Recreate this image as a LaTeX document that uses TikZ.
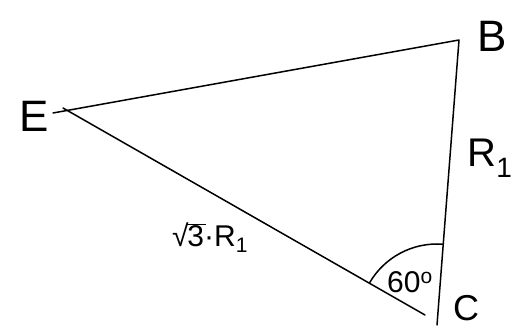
\documentclass[tikz,border=0pt]{standalone}
\usepackage{fontspec}
\setmainfont{Liberation Sans}
\begin{document}
\begin{tikzpicture}[x=1pt,y=-1pt,
  edge/.style={line width=1.5pt,line cap=round,line join=round},
  lab/.style={inner sep=0pt,font=\fontsize{44}{44}\selectfont},
  small/.style={inner sep=0pt,font=\fontsize{30}{30}\selectfont}]
\useasboundingbox (0,0) rectangle (515,336);
\coordinate (Ea) at (53,113);
\coordinate (Eb) at (63,108);
\coordinate (B) at (459,40);
\coordinate (Cb) at (437,325);
\coordinate (Ce) at (425,315);
\coordinate (C) at (437,322);
\draw[edge] (Ea) -- (B) -- (Cb);
\draw[edge] (Eb) -- (Ce);
\draw[edge] (C) ++(-150:78) arc[start angle=-150,end angle=-86,radius=78];
\node[lab] (lE) at (34,116) {E};
\node[lab] (lB) at (492,36) {B};
\node[lab,font=\fontsize{36}{36}\selectfont] (lC) at (466,308) {C};
\node[small,font=\fontsize{40}{40}\selectfont] (lR) at (490,158) {R\textsubscript{1}};
\node[small] (lS) at (210,238) {√\kern-1pt\rlap{\rule[0.73em]{0.62em}{1.2pt}}3·R\textsubscript{1}};
\node[small] (l60) at (410,282) {60\textsuperscript{o}};
\end{tikzpicture}
\end{document}
